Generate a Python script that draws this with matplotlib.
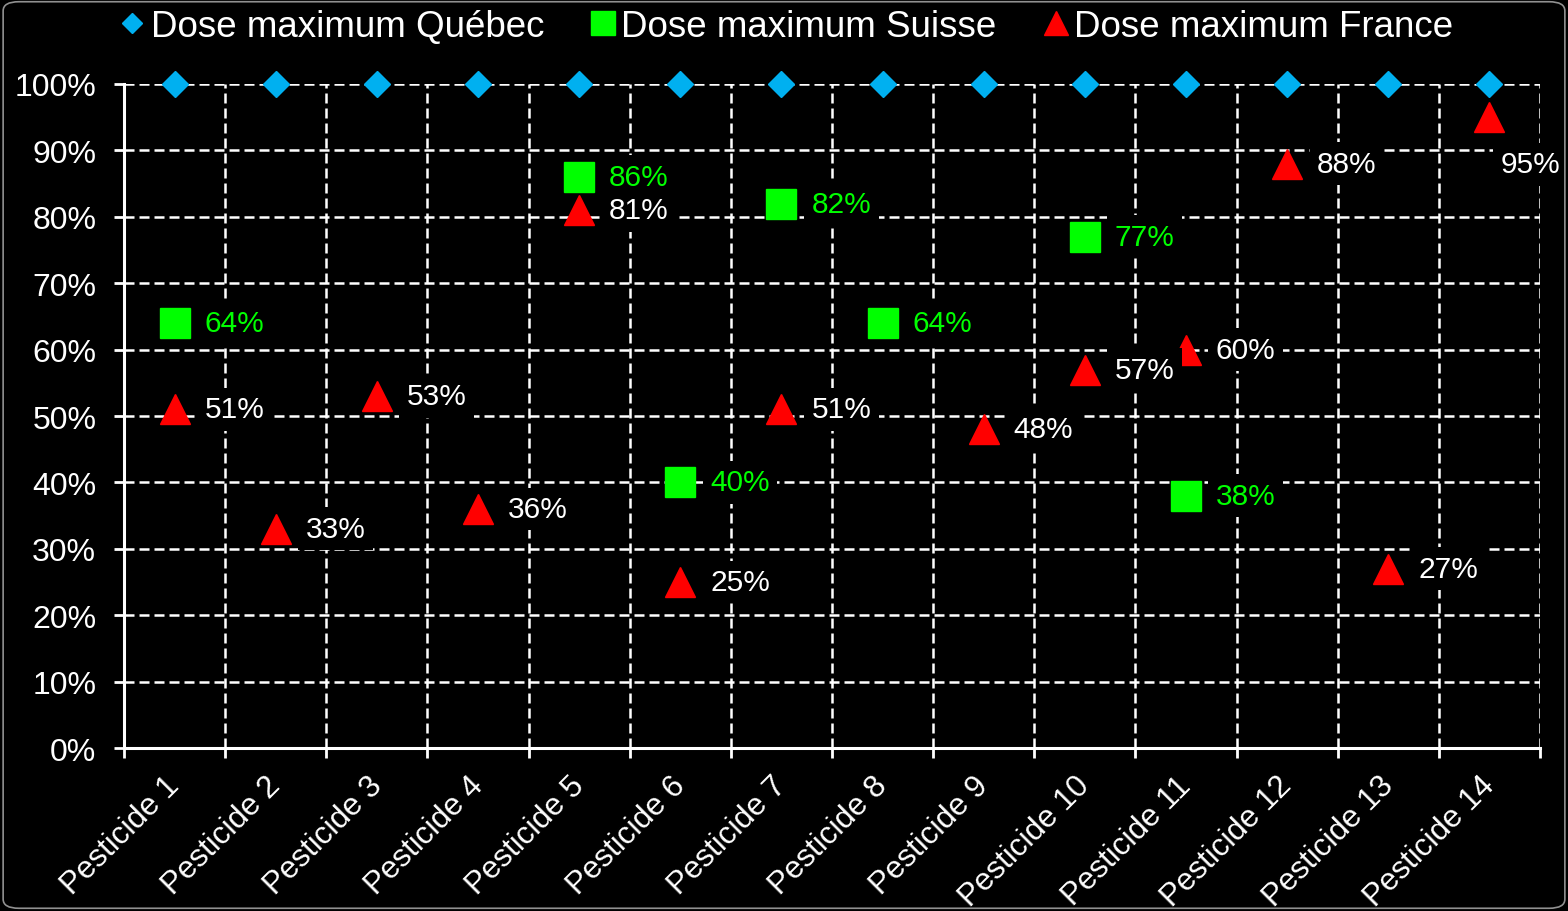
import matplotlib
matplotlib.use('Agg')
import numpy as np
import matplotlib.pyplot as plt
from matplotlib.patches import FancyBboxPatch

plt.rcParams['font.family'] = ['Liberation Sans', 'DejaVu Sans']

pesticides = ['Pesticide %d' % i for i in range(1, 15)]
quebec = [100] * 14
suisse = [64, np.nan, np.nan, np.nan, 86, 40, 82, 64, np.nan, 77, 38, np.nan, np.nan, np.nan]
france = [51, 33, 53, 36, 81, 25, 51, np.nan, 48, 57, 60, 88, 27, 95]

c_quebec = '#00B0F0'
c_suisse = '#00FF00'
c_france = '#FF0000'

fig = plt.figure(figsize=(15.68, 9.12), dpi=100, facecolor='black')
ax = fig.add_axes([0.0791, 0.1787, 0.9030, 0.7281])
ax.set_facecolor('black')

# rounded grey frame around the whole picture
fig.patches.append(FancyBboxPatch((0.002, 0.003), 0.996, 0.994,
                                  boxstyle='round,pad=0,rounding_size=0.01',
                                  transform=fig.transFigure, facecolor='none',
                                  edgecolor='#909090', lw=1.2))

x = np.arange(1, 15)
q = np.array(quebec) / 100.0
s = np.array(suisse) / 100.0
f = np.array(france) / 100.0

ax.plot(x, q, ls='none', marker='D', ms=13, color=c_quebec, clip_on=False,
        zorder=3, label='Dose maximum Québec')
ax.plot(x, s, ls='none', marker='s', ms=21, color=c_suisse, clip_on=False,
        zorder=3, label='Dose maximum Suisse')
ax.plot(x, f, ls='none', marker='^', ms=21, color=c_france, clip_on=False,
        zorder=3, label='Dose maximum France')

box = dict(boxstyle='square,pad=0.25', fc='black', ec='none')
for xi, v in zip(x, suisse):
    if not np.isnan(v):
        ax.annotate('%d%%' % v, (xi, v / 100.0), xytext=(21.6, 0),
                    textcoords='offset points', ha='left', va='center',
                    color=c_suisse, fontsize=21.5, bbox=box, zorder=4)
for xi, v in zip(x, france):
    if np.isnan(v):
        continue
    if xi == 14:
        ax.annotate('%d%%' % v, (xi, v / 100.0), xytext=(29.5, -34),
                    textcoords='offset points', ha='center', va='center',
                    color='white', fontsize=21.5, bbox=box, zorder=4)
    else:
        ax.annotate('%d%%' % v, (xi, v / 100.0), xytext=(21.6, 0),
                    textcoords='offset points', ha='left', va='center',
                    color='white', fontsize=21.5, bbox=box, zorder=4)

ax.set_xlim(0.5, 14.5)
ax.set_ylim(0, 1.0)

ax.set_xticks(np.arange(0.5, 15, 1.0))
ax.set_xticklabels([])
ax.set_xticks(x - 0.1, minor=True)
ax.set_xticklabels(pesticides, minor=True, rotation=45, ha='right', va='top',
                   rotation_mode='anchor', fontsize=22.5, color='white')
ax.tick_params(axis='x', which='minor', length=0, pad=16)
ax.tick_params(axis='x', which='major', length=7, width=2, color='white')

ax.set_yticks(np.arange(0, 1.01, 0.1))
ax.set_yticklabels(['%d%%' % (v * 100) for v in np.arange(0, 1.01, 0.1)],
                   fontsize=23, color='white')
ax.tick_params(axis='y', length=7, width=2, color='white', pad=13)

ax.grid(True, which='major', color='white', lw=1.8, ls=(0, (4, 2)))
ax.set_axisbelow(True)

for side in ['top', 'right']:
    ax.spines[side].set_visible(False)
for side in ['left', 'bottom']:
    ax.spines[side].set_color('white')
    ax.spines[side].set_linewidth(2.2)
    ax.spines[side].set_zorder(2.5)

leg = fig.legend(loc='upper center', bbox_to_anchor=(0.502, 1.025), ncol=3,
                 frameon=False, fontsize=26.5, markerscale=0.8, handlelength=0.6,
                 handletextpad=0.2, columnspacing=1.3)
for t in leg.get_texts():
    t.set_color('white')

fig.savefig('out.png', dpi=100, facecolor='black')
